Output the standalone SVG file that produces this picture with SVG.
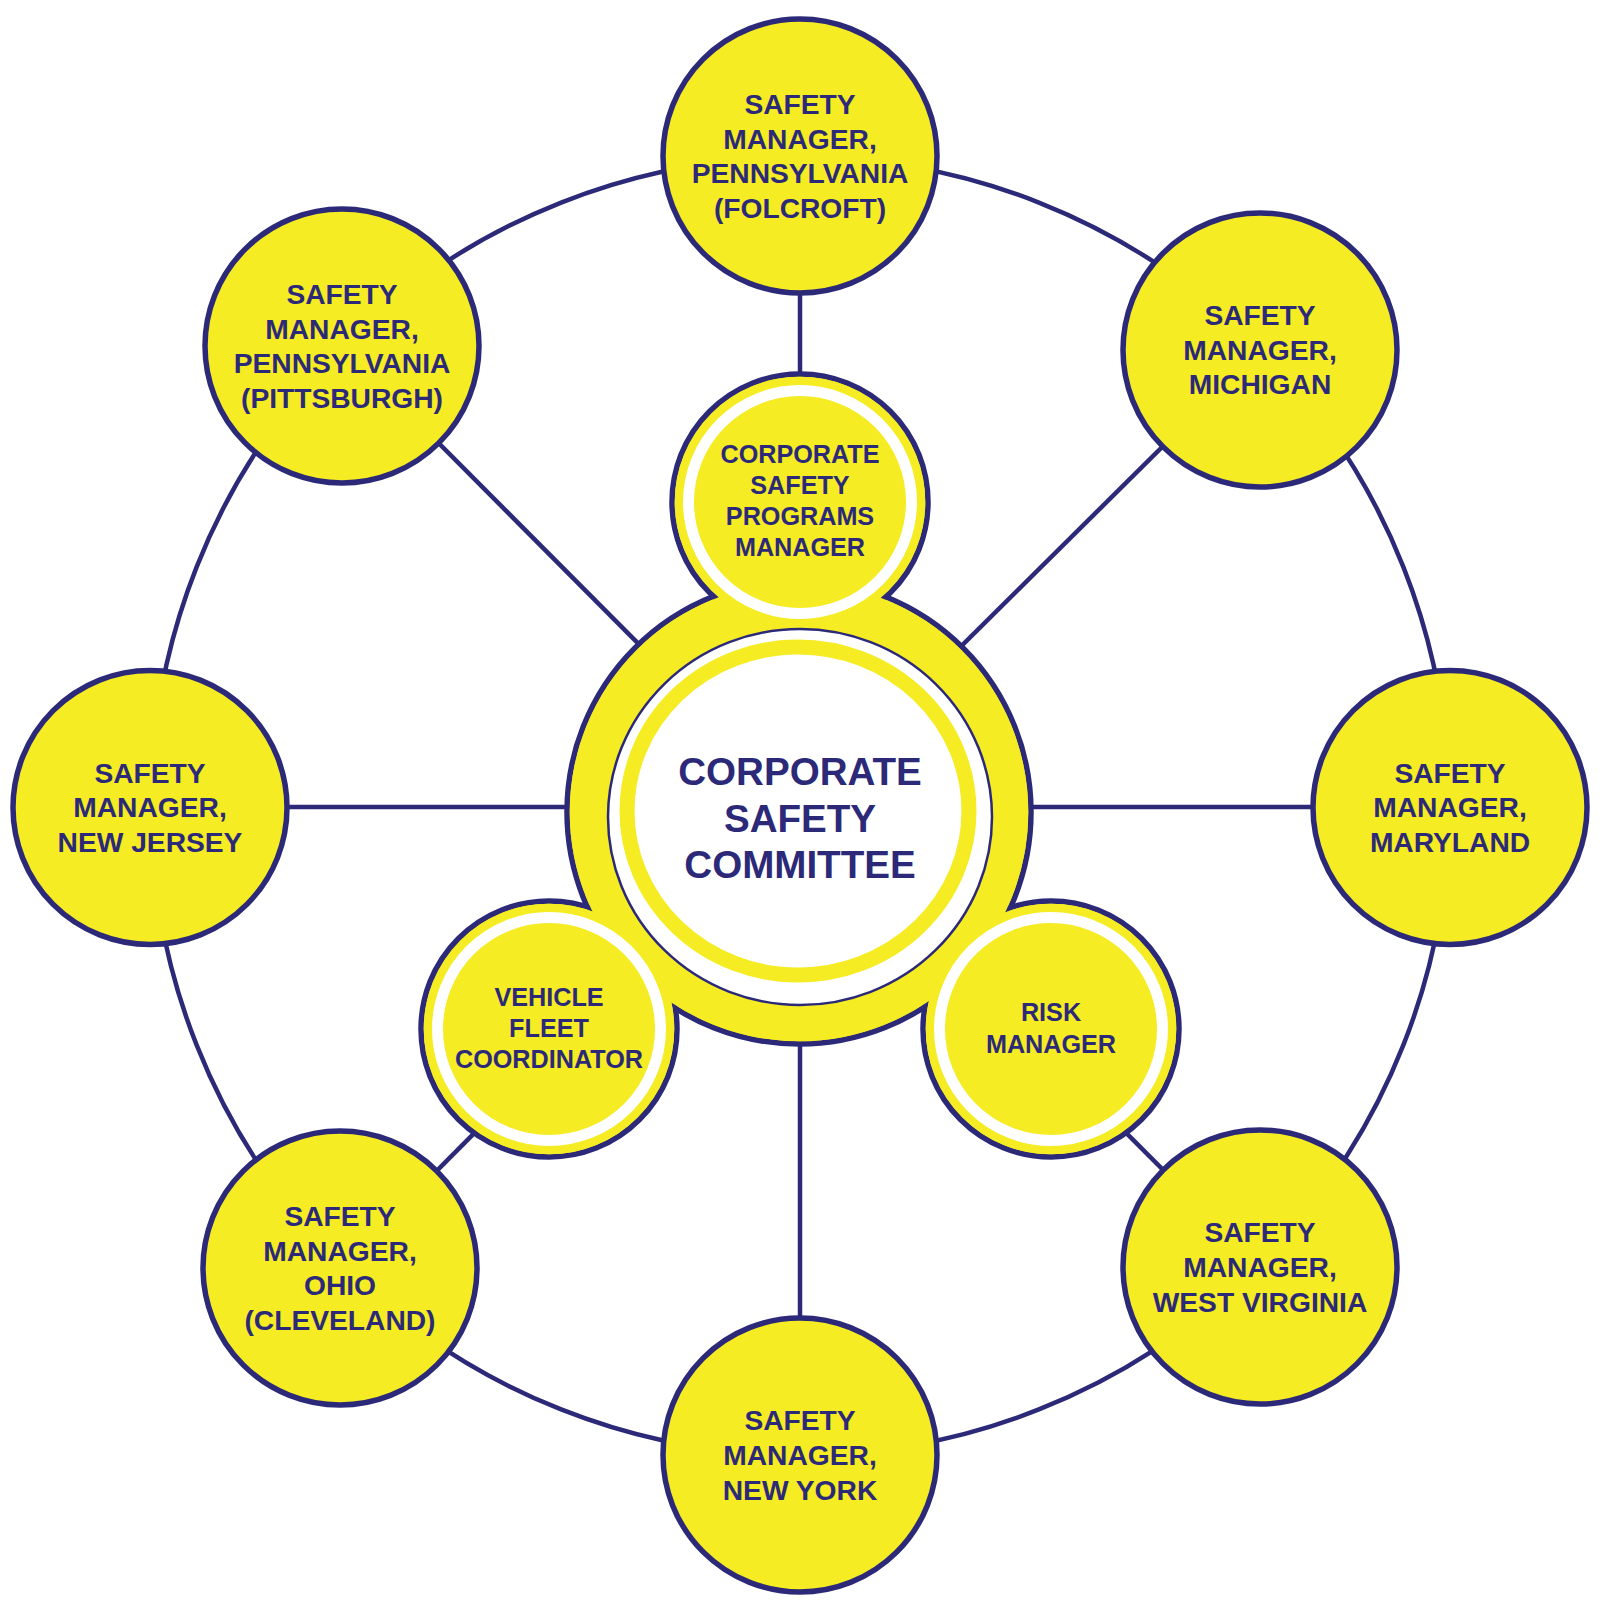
<svg xmlns="http://www.w3.org/2000/svg" width="1600" height="1611" viewBox="0 0 1600 1611">
<style>
.bg{fill:#ffffff}
.conn{fill:none;stroke:#2c2a78;stroke-width:4.5}
.node{fill:#f5ec23;stroke:#2c2a78;stroke-width:5.5}
.fill{fill:#f5ec23;stroke:none}
.wring{fill:none;stroke:#ffffff;stroke-width:11}
.t{font-family:"Liberation Sans",Arial,sans-serif;font-weight:bold;fill:#2c2a78;text-anchor:middle}
.o{font-size:28.2px}
.s{font-size:25.2px}
.c{font-size:38.6px}
</style>
<rect class="bg" x="0" y="0" width="1600" height="1611"/>
<g id="connectors">
<circle class="conn" cx="800" cy="806" r="649"/>
<line class="conn" x1="800" y1="156" x2="800" y2="806"/>
<line class="conn" x1="800" y1="1455" x2="800" y2="806"/>
<line class="conn" x1="150" y1="807" x2="1450" y2="807"/>
<line class="conn" x1="342" y1="346" x2="800" y2="806"/>
<line class="conn" x1="1260" y1="350" x2="800" y2="806"/>
<line class="conn" x1="340" y1="1268" x2="800" y2="806"/>
<line class="conn" x1="1260" y1="1267" x2="800" y2="806"/>
</g>
<g id="node-folcroft">
<circle class="node" cx="800" cy="156" r="137"/>
<text class="t o"><tspan x="800" y="114">SAFETY</tspan><tspan x="800" y="148.7">MANAGER,</tspan><tspan x="800" y="183.4">PENNSYLVANIA</tspan><tspan x="800" y="218.1">(FOLCROFT)</tspan></text>
</g>
<g id="node-pittsburgh">
<circle class="node" cx="342" cy="346" r="137"/>
<text class="t o"><tspan x="342" y="304">SAFETY</tspan><tspan x="342" y="338.7">MANAGER,</tspan><tspan x="342" y="373.4">PENNSYLVANIA</tspan><tspan x="342" y="408.1">(PITTSBURGH)</tspan></text>
</g>
<g id="node-michigan">
<circle class="node" cx="1260" cy="350" r="137"/>
<text class="t o"><tspan x="1260" y="325">SAFETY</tspan><tspan x="1260" y="359.7">MANAGER,</tspan><tspan x="1260" y="394.4">MICHIGAN</tspan></text>
</g>
<g id="node-newjersey">
<circle class="node" cx="150" cy="807.5" r="137"/>
<text class="t o"><tspan x="150" y="782.7">SAFETY</tspan><tspan x="150" y="817.4">MANAGER,</tspan><tspan x="150" y="852.1">NEW JERSEY</tspan></text>
</g>
<g id="node-maryland">
<circle class="node" cx="1450" cy="807.5" r="137"/>
<text class="t o"><tspan x="1450" y="782.7">SAFETY</tspan><tspan x="1450" y="817.4">MANAGER,</tspan><tspan x="1450" y="852.1">MARYLAND</tspan></text>
</g>
<g id="node-ohio">
<circle class="node" cx="340" cy="1268" r="137"/>
<text class="t o"><tspan x="340" y="1226">SAFETY</tspan><tspan x="340" y="1260.7">MANAGER,</tspan><tspan x="340" y="1295.4">OHIO</tspan><tspan x="340" y="1330.1">(CLEVELAND)</tspan></text>
</g>
<g id="node-westvirginia">
<circle class="node" cx="1260" cy="1267" r="137"/>
<text class="t o"><tspan x="1260" y="1242.2">SAFETY</tspan><tspan x="1260" y="1276.9">MANAGER,</tspan><tspan x="1260" y="1311.6">WEST VIRGINIA</tspan></text>
</g>
<g id="node-newyork">
<circle class="node" cx="800" cy="1455" r="137"/>
<text class="t o"><tspan x="800" y="1430.2">SAFETY</tspan><tspan x="800" y="1464.9">MANAGER,</tspan><tspan x="800" y="1499.6">NEW YORK</tspan></text>
</g>
<g id="hub-outline">
<circle class="node" cx="799" cy="812" r="232"/>
<circle class="node" cx="800" cy="502" r="128"/>
<circle class="node" cx="549" cy="1029" r="128"/>
<circle class="node" cx="1051" cy="1029" r="128"/>
<circle class="fill" cx="799" cy="812" r="229.3"/>
<circle class="fill" cx="800" cy="502" r="125.3"/>
<circle class="fill" cx="549" cy="1029" r="125.3"/>
<circle class="fill" cx="1051" cy="1029" r="125.3"/>
</g>
<g id="node-committee">
<ellipse cx="800" cy="817" rx="192" ry="188" fill="#ffffff" stroke="#2c2a78" stroke-width="2.5"/>
<ellipse cx="798" cy="811" rx="171" ry="164" fill="none" stroke="#f5ec23" stroke-width="15"/>
<text class="t c"><tspan x="800" y="785">CORPORATE</tspan><tspan x="800" y="831.5">SAFETY</tspan><tspan x="800" y="877.8">COMMITTEE</tspan></text>
</g>
<g id="node-programs-manager">
<circle class="wring" cx="800" cy="502" r="111.5"/>
<text class="t s"><tspan x="800" y="463">CORPORATE</tspan><tspan x="800" y="494">SAFETY</tspan><tspan x="800" y="525">PROGRAMS</tspan><tspan x="800" y="556">MANAGER</tspan></text>
</g>
<g id="node-vehicle-fleet">
<circle class="wring" cx="549" cy="1029" r="111.5"/>
<text class="t s"><tspan x="549" y="1006">VEHICLE</tspan><tspan x="549" y="1037">FLEET</tspan><tspan x="549" y="1068">COORDINATOR</tspan></text>
</g>
<g id="node-risk-manager">
<circle class="wring" cx="1051" cy="1029" r="111.5"/>
<text class="t s"><tspan x="1051" y="1021">RISK</tspan><tspan x="1051" y="1052.5">MANAGER</tspan></text>
</g>
</svg>
